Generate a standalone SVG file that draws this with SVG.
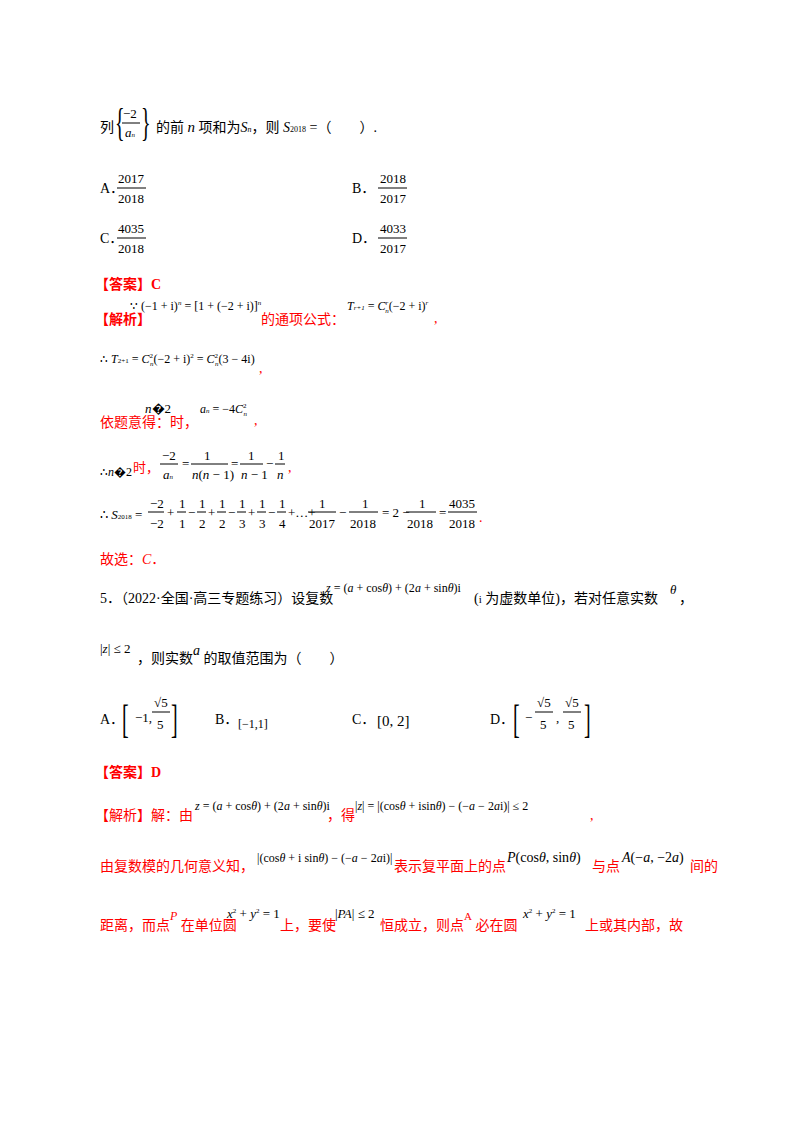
<svg xmlns="http://www.w3.org/2000/svg" width="800" height="1132" viewBox="0 0 800 1132">
<style>
.t{font-family:"Liberation Serif","Noto Sans CJK SC",serif;font-size:14px;fill:#000}
.r{font-family:"Liberation Serif","Noto Sans CJK SC",serif;font-size:14px;fill:#ff0000}
.m{font-family:"Liberation Serif",serif;font-size:13px;fill:#000}
.b{font-family:"Liberation Serif",serif;font-size:40px;fill:#000;font-weight:100}
.i{font-style:italic}
line{stroke:#000;stroke-width:1}
</style>
<rect width="800" height="1132" fill="#fff"/>
<g id="q4">
<text class="t" x="100" y="132">列</text>
<text class="b" transform="scale(0.5,1)" x="230" y="136">{</text>
<text class="m" x="123" y="118">−2</text><line x1="122" y1="123" x2="140" y2="123"/>
<text class="m i" x="125" y="137">a<tspan font-size="7">n</tspan></text>
<text class="b" transform="scale(0.5,1)" x="282" y="136">}</text>
<text class="t" x="156" y="132">的前 <tspan class="i" font-size="15">n</tspan> 项和为<tspan class="i">S</tspan><tspan font-size="8" class="i">n</tspan>，则 <tspan class="i">S</tspan><tspan font-size="8">2018</tspan> =（　　）.</text>
<text class="t" x="100" y="193">A．</text>
<text class="m" x="118" y="183">2017</text><line x1="117" y1="188" x2="146" y2="188"/><text class="m" x="118" y="203">2018</text>
<text class="t" x="352" y="193">B．</text>
<text class="m" x="380" y="183">2018</text><line x1="378" y1="188" x2="407" y2="188"/><text class="m" x="380" y="203">2017</text>
<text class="t" x="100" y="243">C．</text>
<text class="m" x="118" y="233">4035</text><line x1="117" y1="238" x2="146" y2="238"/><text class="m" x="118" y="253">2018</text>
<text class="t" x="352" y="243">D．</text>
<text class="m" x="380" y="233">4033</text><line x1="378" y1="238" x2="407" y2="238"/><text class="m" x="380" y="253">2017</text>
</g>
<g id="ans4">
<text class="r" x="95" y="289" font-weight="bold">【答案】C</text>
<text class="r" x="95" y="324" font-weight="bold">【解析】</text>
<text class="m" x="130" y="310" style="font-size:12px">∵ (−1 + i)<tspan font-size="7" class="i" dy="-5">n</tspan><tspan dy="5"> = [1 + (−2 + i)]</tspan><tspan font-size="7" class="i" dy="-5">n</tspan></text>
<text class="r" x="261" y="324">的通项公式：</text>
<text class="m" x="347" y="310" style="font-size:12px"><tspan class="i">T</tspan><tspan font-size="7" class="i">r+1</tspan> = <tspan class="i">C</tspan><tspan font-size="7" class="i" dy="-5">r</tspan><tspan font-size="7" class="i" dx="-3" dy="8">n</tspan><tspan dy="-3">(−2 + i)</tspan><tspan font-size="7" class="i" dy="-5">r</tspan></text>
<text class="r" x="434" y="323">,</text>
<text class="m" x="100" y="363" style="font-size:12px">∴ <tspan class="i">T</tspan><tspan font-size="7">2+1</tspan> = <tspan class="i">C</tspan><tspan font-size="7" dy="-5">2</tspan><tspan font-size="7" class="i" dx="-3" dy="8">n</tspan><tspan dy="-3">(−2 + i)</tspan><tspan font-size="7" dy="-5">2</tspan><tspan dy="5"> = </tspan><tspan class="i">C</tspan><tspan font-size="7" dy="-5">2</tspan><tspan font-size="7" class="i" dx="-3" dy="8">n</tspan><tspan dy="-3">(3 − 4i)</tspan></text>
<text class="r" x="259" y="373">,</text>
<text class="r" x="100" y="427">依题意得：</text>
<text class="m" x="145" y="413"><tspan class="i">n</tspan>�2</text>
<text class="r" x="170" y="427">时，</text>
<text class="m" x="200" y="413" style="font-size:12px"><tspan class="i">a</tspan><tspan font-size="7" class="i">n</tspan> = −4<tspan class="i">C</tspan><tspan font-size="7" dy="-5">2</tspan><tspan font-size="7" class="i" dx="-3" dy="8">n</tspan></text>
<text class="r" x="254" y="425">,</text>
<text class="m" x="100" y="476" style="font-size:12px">∴<tspan class="i">n</tspan>�2</text>
<text class="r" x="133" y="472" style="font-size:13px">时，</text>
<text class="m" x="162" y="460">−2</text><line x1="160" y1="464" x2="178" y2="464"/><text class="m i" x="163" y="479">a<tspan font-size="7">n</tspan></text>
<text class="m" x="182" y="468">=</text>
<text class="m" x="204" y="460">1</text><line x1="191" y1="464" x2="228" y2="464"/><text class="m" x="192" y="479"><tspan class="i">n</tspan>(<tspan class="i">n</tspan> − 1)</text>
<text class="m" x="231" y="468">=</text>
<text class="m" x="248" y="460">1</text><line x1="240" y1="464" x2="263" y2="464"/><text class="m" x="241" y="479"><tspan class="i">n</tspan> − 1</text>
<text class="m" x="266" y="468">−</text>
<text class="m" x="278" y="460">1</text><line x1="275" y1="464" x2="285" y2="464"/><text class="m i" x="277" y="479">n</text>
<text class="r" x="288" y="472">,</text>
<text class="m" x="100" y="519">∴ <tspan class="i">S</tspan><tspan font-size="7">2018</tspan> =</text>
<text class="m" x="150" y="508">−2</text><line x1="148" y1="512" x2="164" y2="512"/><text class="m" x="150" y="528">−2</text>
<text class="m" x="167" y="517">+</text>
<text class="m" x="179" y="508">1</text><line x1="177" y1="512" x2="186" y2="512"/><text class="m" x="179" y="528">1</text>
<text class="m" x="188" y="517">−</text>
<text class="m" x="199" y="508">1</text><line x1="197" y1="512" x2="206" y2="512"/><text class="m" x="199" y="528">2</text>
<text class="m" x="208" y="517">+</text>
<text class="m" x="219" y="508">1</text><line x1="217" y1="512" x2="226" y2="512"/><text class="m" x="219" y="528">2</text>
<text class="m" x="228" y="517">−</text>
<text class="m" x="239" y="508">1</text><line x1="237" y1="512" x2="246" y2="512"/><text class="m" x="239" y="528">3</text>
<text class="m" x="248" y="517">+</text>
<text class="m" x="259" y="508">1</text><line x1="257" y1="512" x2="266" y2="512"/><text class="m" x="259" y="528">3</text>
<text class="m" x="268" y="517">−</text>
<text class="m" x="279" y="508">1</text><line x1="277" y1="512" x2="286" y2="512"/><text class="m" x="279" y="528">4</text>
<text class="m" x="288" y="517">+…+</text>
<text class="m" x="319" y="508">1</text><line x1="308" y1="512" x2="336" y2="512"/><text class="m" x="309" y="528">2017</text>
<text class="m" x="339" y="517">−</text>
<text class="m" x="362" y="508">1</text><line x1="349" y1="512" x2="378" y2="512"/><text class="m" x="350" y="528">2018</text>
<text class="m" x="382" y="517">= 2 −</text>
<text class="m" x="419" y="508">1</text><line x1="406" y1="512" x2="436" y2="512"/><text class="m" x="407" y="528">2018</text>
<text class="m" x="439" y="517">=</text>
<text class="m" x="449" y="508">4035</text><line x1="448" y1="512" x2="477" y2="512"/><text class="m" x="449" y="528">2018</text>
<text class="r" x="479" y="522">.</text>
<text class="r" x="100" y="564">故选：<tspan class="i" font-family="Liberation Serif">C</tspan>．</text>
</g>
<g id="q5">
<text class="t" x="100" y="603">5．（2022·全国·高三专题练习）设复数</text>
<text class="m" x="326" y="592" style="font-size:12px"><tspan class="i">z</tspan> = (<tspan class="i">a</tspan> + cos<tspan class="i">θ</tspan>) + (2<tspan class="i">a</tspan> + sin<tspan class="i">θ</tspan>)i</text>
<text class="t" x="474" y="603">(<tspan font-size="11">i</tspan> 为虚数单位)，若对任意实数</text>
<text class="m i" x="670" y="594">θ</text>
<text class="t" x="679" y="603">，</text>
<text class="m" x="100" y="653">|<tspan class="i">z</tspan>| ≤ 2</text>
<text class="t" x="137" y="663">，则实数<tspan class="i" dy="-8">a</tspan><tspan dy="8"> 的取值范围为（　　）</tspan></text>
<text class="t" x="100" y="724">A．</text>
<text class="b" transform="scale(0.5,1)" x="244" y="733">[</text>
<text class="m" x="135" y="722">−1,</text>
<text class="m" x="154" y="707">√5</text><line x1="152" y1="712" x2="170" y2="712"/><text class="m" x="157" y="729">5</text>
<text class="b" transform="scale(0.5,1)" x="342" y="733">]</text>
<text class="t" x="215" y="724">B．</text>
<text class="m" x="238" y="728" style="font-size:12px">[−1,1]</text>
<text class="t" x="352" y="724">C．</text>
<text class="m" x="377" y="726" style="font-size:15px">[0, 2]</text>
<text class="t" x="490" y="724">D．</text>
<text class="b" transform="scale(0.5,1)" x="1026" y="733">[</text>
<text class="m" x="525" y="722">−</text>
<text class="m" x="537" y="707">√5</text><line x1="535" y1="712" x2="553" y2="712"/><text class="m" x="540" y="729">5</text>
<text class="m" x="556" y="722">,</text>
<text class="m" x="565" y="707">√5</text><line x1="563" y1="712" x2="581" y2="712"/><text class="m" x="568" y="729">5</text>
<text class="b" transform="scale(0.5,1)" x="1168" y="733">]</text>
</g>
<g id="ans5">
<text class="r" x="95" y="777" font-weight="bold">【答案】D</text>
<text class="r" x="95" y="820">【解析】解：由</text>
<text class="m" x="195" y="810" style="font-size:12px"><tspan class="i">z</tspan> = (<tspan class="i">a</tspan> + cos<tspan class="i">θ</tspan>) + (2<tspan class="i">a</tspan> + sin<tspan class="i">θ</tspan>)i</text>
<text class="r" x="327" y="820">，得</text>
<text class="m" x="355" y="810" style="font-size:12px">|<tspan class="i">z</tspan>| = |(cos<tspan class="i">θ</tspan> + isin<tspan class="i">θ</tspan>) − (−<tspan class="i">a</tspan> − 2<tspan class="i">a</tspan>i)| ≤ 2</text>
<text class="r" x="590" y="820">,</text>
<text class="r" x="100" y="871">由复数模的几何意义知，</text>
<text class="m" x="257" y="862" style="font-size:12px">|(cos<tspan class="i">θ</tspan> + i sin<tspan class="i">θ</tspan>) − (−<tspan class="i">a</tspan> − 2<tspan class="i">a</tspan>i)|</text>
<text class="r" x="394" y="871">表示复平面上的点</text>
<text class="m" x="507" y="862" style="font-size:14px"><tspan class="i">P</tspan>(cos<tspan class="i">θ</tspan>, sin<tspan class="i">θ</tspan>)</text>
<text class="r" x="592" y="871">与点</text>
<text class="m" x="622" y="862" style="font-size:14px"><tspan class="i">A</tspan>(−<tspan class="i">a</tspan>, −2<tspan class="i">a</tspan>)</text>
<text class="r" x="690" y="871">间的</text>
<text class="r" x="100" y="930">距离，而点<tspan class="i" font-family="Liberation Serif" font-size="12" dy="-10">P</tspan><tspan dy="10"> 在单位圆</tspan></text>
<text class="m" x="227" y="918"><tspan class="i">x</tspan><tspan font-size="7" dy="-5">2</tspan><tspan dy="5"> + </tspan><tspan class="i">y</tspan><tspan font-size="7" dy="-5">2</tspan><tspan dy="5"> = 1</tspan></text>
<text class="r" x="280" y="930">上，要使</text>
<text class="m" x="335" y="918">|<tspan class="i">PA</tspan>| ≤ 2</text>
<text class="r" x="380" y="930">恒成立，则点<tspan font-family="Liberation Serif" font-size="11" dy="-10">A</tspan><tspan dy="10"> 必在圆</tspan></text>
<text class="m" x="523" y="918"><tspan class="i">x</tspan><tspan font-size="7" dy="-5">2</tspan><tspan dy="5"> + </tspan><tspan class="i">y</tspan><tspan font-size="7" dy="-5">2</tspan><tspan dy="5"> = 1</tspan></text>
<text class="r" x="585" y="930">上或其内部，故</text>
</g>
<g id="connectors"/>
</svg>
